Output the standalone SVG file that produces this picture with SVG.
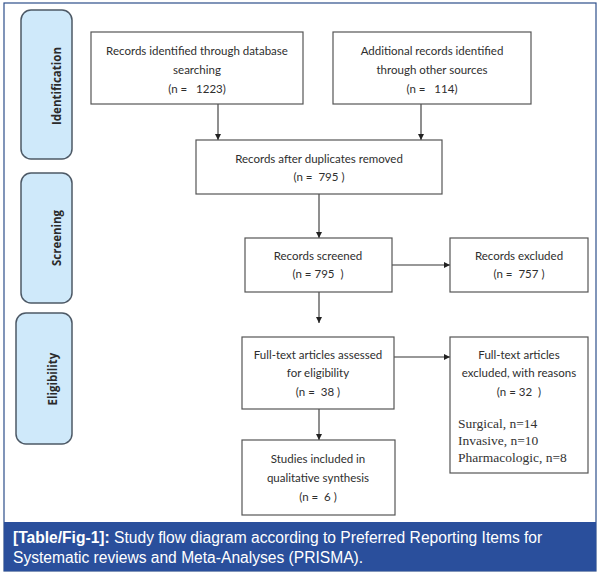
<svg xmlns="http://www.w3.org/2000/svg" width="599" height="575" viewBox="0 0 599 575">
<style>
.bg{fill:#ffffff}
.frame{fill:#ffffff;stroke:#2d4f8a;stroke-width:1.2}
.phase{fill:#cfe9fa;stroke:#4d5966;stroke-width:1.5}
.ptxt{font-family:"Open Sans","Liberation Sans",sans-serif;font-weight:bold;font-size:11.5px;fill:#2a2a2a;text-anchor:middle}
.box{fill:#ffffff;stroke:#555555;stroke-width:1.2}
.t{font-family:Lato,"Liberation Sans",sans-serif;font-size:11.5px;fill:#2e2e2e;text-anchor:middle;white-space:pre}
.s{font-family:"Liberation Serif",serif;font-size:13.5px;fill:#333333}
.conn{stroke:#333333;stroke-width:1.1;fill:none;marker-end:url(#ah)}
.cap{fill:#2a4f9c}
.ct{font-family:"Liberation Sans",Arial,sans-serif;font-size:15.6px;fill:#ffffff}
</style>
<defs>
<marker id="ah" viewBox="0 0 10 10" refX="10" refY="5" markerWidth="6" markerHeight="6" markerUnits="userSpaceOnUse" orient="auto">
<path d="M0,0 L10,5 L0,10 z" fill="#222222"/>
</marker>
</defs>
<rect class="bg" x="0" y="0" width="599" height="575"/>
<rect class="frame" x="4" y="3" width="592" height="568"/>

<g id="phase-identification">
<rect class="phase" x="21" y="10" width="51" height="149" rx="10" ry="10"/>
<text class="ptxt" transform="translate(61,86) rotate(-90)">Identification</text>
</g>
<g id="phase-screening">
<rect class="phase" x="21" y="173" width="51" height="130" rx="10" ry="10"/>
<text class="ptxt" transform="translate(61,238) rotate(-90)">Screening</text>
</g>
<g id="phase-eligibility">
<rect class="phase" x="16" y="313" width="56" height="131" rx="10" ry="10"/>
<text class="ptxt" transform="translate(57,379) rotate(-90)">Eligibility</text>
</g>

<g id="connectors">
<line class="conn" x1="218" y1="104" x2="218" y2="140"/>
<line class="conn" x1="421" y1="104" x2="421" y2="140"/>
<line class="conn" x1="319" y1="194" x2="319" y2="238"/>
<line class="conn" x1="392" y1="265" x2="450" y2="265"/>
<line class="conn" x1="319" y1="292" x2="319" y2="323"/>
<line class="conn" x1="394" y1="357" x2="450" y2="357"/>
<line class="conn" x1="319" y1="409" x2="319" y2="440"/>
</g>

<g id="box-db">
<rect class="box" x="91" y="32" width="212" height="72"/>
<text class="t" x="197" y="55">Records identified through database</text>
<text class="t" x="197" y="74">searching</text>
<text class="t" x="197" y="93">(n =   1223)</text>
</g>
<g id="box-other">
<rect class="box" x="333" y="32" width="198" height="72"/>
<text class="t" x="432" y="55">Additional records identified</text>
<text class="t" x="432" y="74">through other sources</text>
<text class="t" x="432" y="93">(n =   114)</text>
</g>
<g id="box-dup">
<rect class="box" x="196" y="140" width="246" height="54"/>
<text class="t" x="319" y="163">Records after duplicates removed</text>
<text class="t" x="319" y="181">(n =  795 )</text>
</g>
<g id="box-screened">
<rect class="box" x="245" y="238" width="147" height="54"/>
<text class="t" x="318" y="260">Records screened</text>
<text class="t" x="318" y="278">(n = 795  )</text>
</g>
<g id="box-excluded">
<rect class="box" x="450" y="238" width="138" height="54"/>
<text class="t" x="519" y="260">Records excluded</text>
<text class="t" x="519" y="278">(n =  757 )</text>
</g>
<g id="box-fulltext">
<rect class="box" x="242" y="337" width="152" height="72"/>
<text class="t" x="318" y="359">Full-text articles assessed</text>
<text class="t" x="318" y="377">for eligibility</text>
<text class="t" x="318" y="396">(n =  38 )</text>
</g>
<g id="box-ft-excluded">
<rect class="box" x="450" y="337" width="138" height="136"/>
<text class="t" x="519" y="359">Full-text articles</text>
<text class="t" x="519" y="377">excluded, with reasons</text>
<text class="t" x="519" y="396">(n = 32  )</text>
<text class="s" x="458" y="428">Surgical, n=14</text>
<text class="s" x="458" y="445">Invasive, n=10</text>
<text class="s" x="458" y="462">Pharmacologic, n=8</text>
</g>
<g id="box-included">
<rect class="box" x="242" y="440" width="153" height="75"/>
<text class="t" x="318" y="463">Studies included in</text>
<text class="t" x="318" y="482">qualitative synthesis</text>
<text class="t" x="318" y="501">(n =  6 )</text>
</g>

<g id="caption">
<rect class="cap" x="4" y="522" width="592" height="49"/>
<text class="ct" x="13" y="543"><tspan font-weight="bold">[Table/Fig-1]:</tspan> Study flow diagram according to Preferred Reporting Items for</text>
<text class="ct" x="13" y="563">Systematic reviews and Meta-Analyses (PRISMA).</text>
</g>
</svg>
